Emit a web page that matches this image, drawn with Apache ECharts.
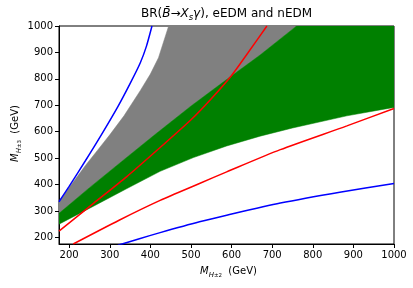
<!DOCTYPE html>
<html>
<head>
<meta charset="utf-8">
<script src="https://cdn.jsdelivr.net/npm/echarts@6/dist/echarts.min.js"></script>
<style>html,body{margin:0;padding:0;background:#fff}#c{width:413px;height:288px}</style>
</head>
<body>
<div id="c"></div>
<script>
// axis ticks
const xTicks = [200, 300, 400, 500, 600, 700, 800, 900, 1000];
const yTicks = [200, 300, 400, 500, 600, 700, 800, 900, 1000];

// gray region upper-left boundary (M_H2, M_H3)
const grayUpper = [[175,333],[200,389],[240,472],[270,530],[300,588],[335,660],[375,755],[400,818],[420,880],[445,1000]];
// green region upper boundary
const greenUpper = [[175,291],[250,388],[330,488],[412,590],[500,697],[590,800],[670,890],[760,1000]];
// green region lower boundary
const greenLower = [[175,250],[260,318],[340,383],[424,450],[506,502],[588,546],[670,583],[750,614],[884,660],[1000,692]];
// red curves
const redUpper = [[175,224],[260,329],[342,430],[424,540],[500,645],[550,725],[600,813],[640,898],[687,1000]];
const redLower = [[210,175],[323,265],[424,340],[521,404],[588,448],[720,532],[884,622],[1000,688]];
// blue curves
const blueUpper = [[175,335],[200,393],[240,490],[280,590],[320,695],[350,782],[375,860],[390,922],[404,1000]];
const blueLower = [[320,170],[373,195],[424,218],[521,259],[588,284],[720,330],[870,372],[1000,404]];

const Y_MAX = 1000, X_MAX = 1000;
const grayPoly = grayUpper.concat([[greenUpper[greenUpper.length-1][0], Y_MAX]], greenUpper.slice().reverse());
const greenPoly = greenUpper.concat([[X_MAX, Y_MAX]], greenLower.slice().reverse());

function polygonSeries(points, color) {
  return {
    type: 'custom',
    clip: true,
    silent: true,
    data: points,
    renderItem: function (params, api) {
      if (params.dataIndex !== 0) return null;
      const pts = points.map(p => api.coord(p));
      return { type: 'polygon', shape: { points: pts }, style: { fill: color, stroke: color, lineWidth: 0.5 } };
    },
    encode: { x: 0, y: 1 }
  };
}
function lineSeries(data, color) {
  return {
    type: 'line', data: data, symbol: 'none', smooth: 0.25, clip: true, silent: true,
    lineStyle: { color: color, width: 1.5 }, z: 5
  };
}

const chart = echarts.init(document.getElementById('c'), null, { renderer: 'canvas' });
const font = 'DejaVu Sans';
const axisCommon = {
  type: 'value', min: 175, max: 1000,
  axisLine: { show: true, lineStyle: { color: '#000', width: 1 } },
  axisTick: { show: true, inside: false, length: 4, lineStyle: { color: '#000' } },
  splitLine: { show: false },
  axisLabel: { color: '#000', fontFamily: font, fontSize: 10, margin: 6, formatter: v => String(v) }
};
const nameRich = {
  m: { fontFamily: font, fontSize: 10, fontStyle: 'italic', fill: '#000', lineHeight: 16 },
  h: { fontFamily: font, fontSize: 7, fontStyle: 'italic', fill: '#000', verticalAlign: 'bottom', lineHeight: 9 },
  p: { fontFamily: font, fontSize: 5.5, fill: '#000', verticalAlign: 'bottom', lineHeight: 14 },
  d: { fontFamily: font, fontSize: 5.5, fill: '#000', verticalAlign: 'bottom', lineHeight: 4 },
  n: { fontFamily: font, fontSize: 10, fill: '#000', lineHeight: 16 }
};
chart.setOption({
  animation: false,
  backgroundColor: '#fff',
  grid: { left: 59, right: 19, top: 26, bottom: 44, show: true, borderColor: '#000', borderWidth: 1, backgroundColor: 'transparent' },
  xAxis: Object.assign({}, axisCommon, {
    axisTick: Object.assign({}, axisCommon.axisTick, { customValues: xTicks }),
    axisLabel: Object.assign({}, axisCommon.axisLabel, { customValues: xTicks })
  }),
  yAxis: Object.assign({}, axisCommon, {
    axisTick: Object.assign({}, axisCommon.axisTick, { customValues: yTicks }),
    axisLabel: Object.assign({}, axisCommon.axisLabel, { customValues: yTicks })
  }),
  series: [
    polygonSeries(grayPoly, '#808080'),
    polygonSeries(greenPoly, '#008000'),
    lineSeries(redUpper, '#ff0000'),
    lineSeries(redLower, '#ff0000'),
    lineSeries(blueUpper, '#0000ff'),
    lineSeries(blueLower, '#0000ff')
  ],
  graphic: [
    {
      type: 'text', x: 226.5, y: 6, z: 10,
      style: {
        text: '{n|BR(}{i|B\u0304}{n|\u2192}{i|X}{s|s}{i|\u03b3}{n|), eEDM and nEDM}',
        fill: '#000', align: 'center',
        rich: {
          n: { fontFamily: font, fontSize: 12, fill: '#000', lineHeight: 16 },
          i: { fontFamily: font, fontSize: 12, fontStyle: 'italic', fill: '#000', lineHeight: 16 },
          s: { fontFamily: font, fontSize: 8.5, fontStyle: 'italic', fill: '#000', verticalAlign: 'bottom', lineHeight: 11 }
        }
      }
    },
    {
      type: 'text', x: 200, y: 263, z: 10,
      style: { text: '{m|M}{h|H}{p|\u00b1}{d|2}{n|  (GeV)}', fill: '#000', rich: nameRich }
    },
    {
      type: 'text', x: 7, y: 162, rotation: Math.PI / 2, z: 10,
      style: { text: '{m|M}{h|H}{p|\u00b1}{d|3}{n|  (GeV)}', fill: '#000', rich: nameRich }
    }
  ]
});
</script>
</body>
</html>
